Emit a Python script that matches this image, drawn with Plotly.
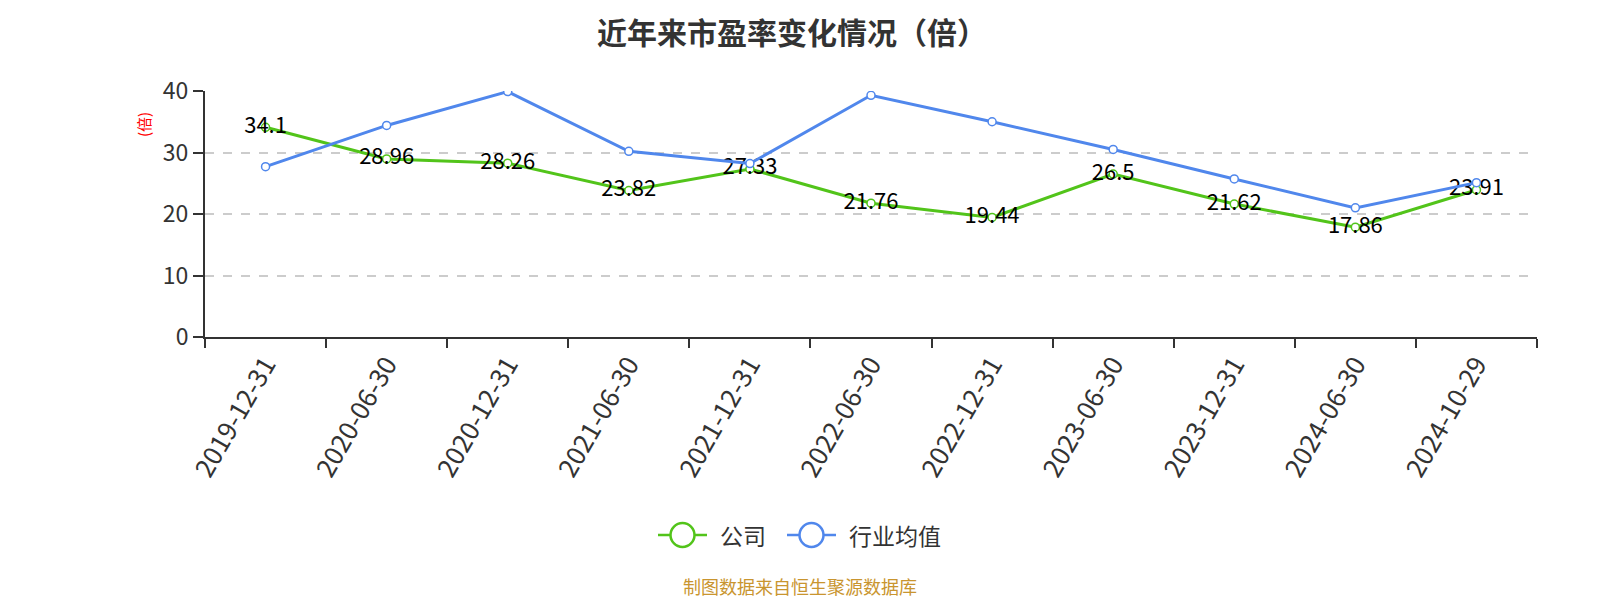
import plotly.graph_objects as go

#---------------
# data
dates = ["2019-12-31", "2020-06-30", "2020-12-31", "2021-06-30", "2021-12-31", "2022-06-30",
         "2022-12-31", "2023-06-30", "2023-12-31", "2024-06-30", "2024-10-29"]
company = [34.1, 28.96, 28.26, 23.82, 27.33, 21.76, 19.44, 26.5, 21.62, 17.86, 23.91]
industry = [27.7, 34.4, 39.9, 30.2, 28.2, 39.3, 35.0, 30.5, 25.7, 21.0, 25.1]
series_names = ["公司", "行业均值"]

FONT = "Noto Sans CJK SC"
GREEN = "#52C41A"
BLUE = "#5087EC"

# the page body has an 8px margin, so the figure is drawn 8px smaller
W, H = 1592, 592
L, R, T, B = 197, 63, 83, 263
PW, PH = W - L - R, H - T - B


def px(X):  # screen x -> paper x
  return (X - 8 - L) / PW


def py(Y):  # screen y -> paper y
  return (H - B - (Y - 8)) / PH


#---------------
fig = go.Figure()
fig.add_trace(go.Scatter(
    x=dates, y=company, name=series_names[0], mode="lines+markers+text",
    line=dict(color=GREEN, width=3),
    marker=dict(symbol="circle", size=8, color="white", line=dict(color=GREEN, width=1.5)),
    text=[str(v) for v in company], textposition="middle center",
    textfont=dict(family=FONT, size=22, color="#000"),
    showlegend=False,
))
fig.add_trace(go.Scatter(
    x=dates, y=industry, name=series_names[1], mode="lines+markers",
    line=dict(color=BLUE, width=3),
    marker=dict(symbol="circle", size=8, color="white", line=dict(color=BLUE, width=1.5)),
    showlegend=False,
))

# legend drawn by hand (bigger symbols than plotly's own legend)
shapes = []
annos = []
for name, col, x0, xt in [(series_names[0], GREEN, 658, 718), (series_names[1], BLUE, 787, 847)]:
  shapes.append(dict(type="line", xref="paper", yref="paper",
                     x0=px(x0), x1=px(x0 + 49), y0=py(535), y1=py(535),
                     line=dict(color=col, width=2.5)))
  shapes.append(dict(type="circle", xref="paper", yref="paper",
                     xsizemode="pixel", ysizemode="pixel",
                     xanchor=px(x0 + 24.5), yanchor=py(535),
                     x0=-12, x1=12, y0=-12, y1=12,
                     fillcolor="white", line=dict(color=col, width=2.5)))
  annos.append(dict(text=name, x=px(xt), y=py(535), xref="paper", yref="paper",
                    showarrow=False, xanchor="left", yanchor="middle",
                    font=dict(size=23, color="#333")))

annos.append(dict(text="(倍)", x=px(143), y=py(125), xref="paper", yref="paper", showarrow=False,
                  textangle=-90, font=dict(size=15, color="red"), xanchor="center", yanchor="middle"))
annos.append(dict(text="制图数据来自恒生聚源数据库", x=px(800), y=py(586), xref="paper", yref="paper",
                  showarrow=False, font=dict(size=18, color="#C9952F"), xanchor="center", yanchor="middle"))
# title as a top-anchored annotation so its box stays inside the page
annos.append(dict(text="<b>近年来市盈率变化情况（倍）</b>", x=px(792), y=py(8), xref="paper", yref="paper",
                  showarrow=False, xanchor="center", yanchor="top", borderpad=0,
                  font=dict(size=30, color="#333")))

fig.update_layout(
    width=W, height=H,
    paper_bgcolor="white", plot_bgcolor="white",
    margin=dict(l=L, r=R, t=T, b=B),
    font=dict(family=FONT, color="#333"),
    shapes=shapes,
    annotations=annos,
)

fig.update_xaxes(
    type="category", range=[-0.5, 10.5], tickson="boundaries",
    showline=True, linecolor="#333", linewidth=2,
    ticks="outside", ticklen=9, tickcolor="#333", tickwidth=2,
    tickangle=-60, tickfont=dict(size=26, color="#333"),
    showgrid=False,
)
fig.update_yaxes(
    range=[0, 40], tickvals=[0, 10, 20, 30, 40],
    showline=True, linecolor="#333", linewidth=2,
    ticks="outside", ticklen=10, tickcolor="#333", tickwidth=2,
    tickfont=dict(size=23, color="#333"),
    showgrid=True, gridcolor="#ccc", griddash="dash", gridwidth=1.5,
    zeroline=False,
)

fig.write_html("out.html")
